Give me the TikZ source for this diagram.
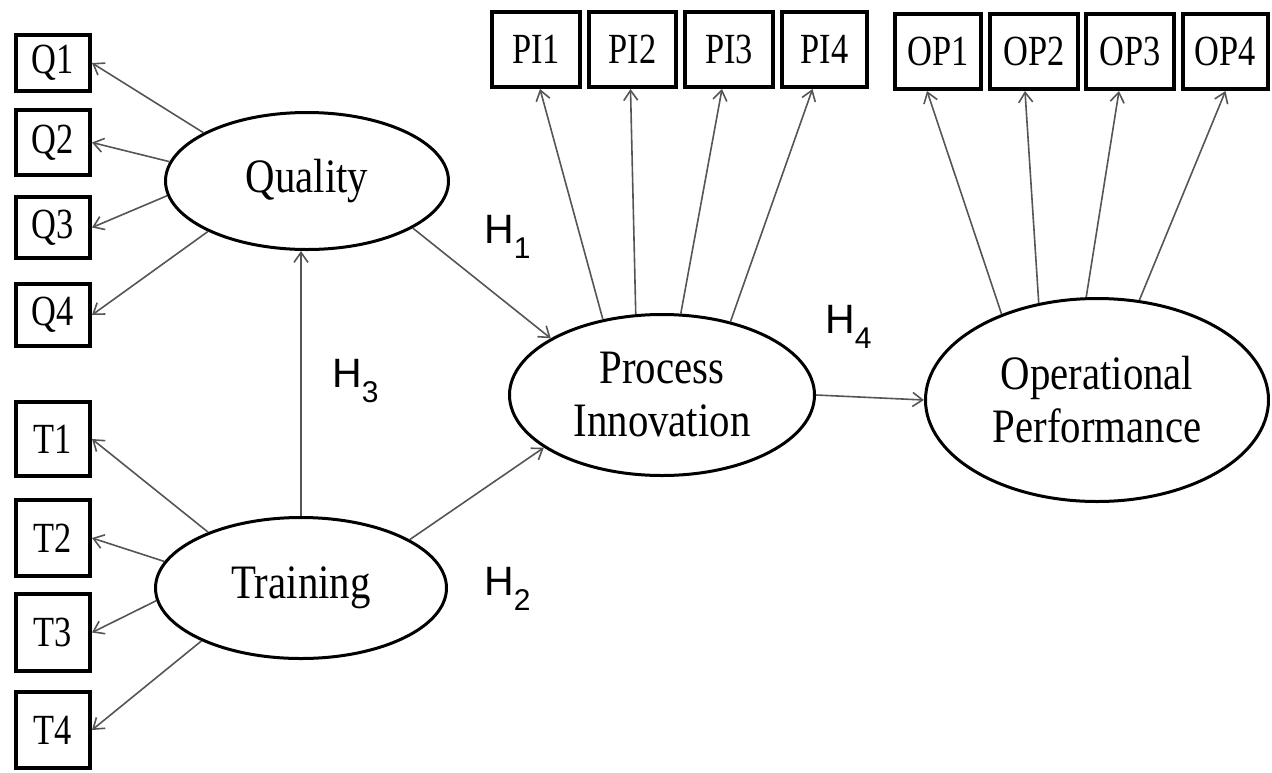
\documentclass[tikz,border=0pt]{standalone}
\usepackage{fontspec}
\usetikzlibrary{arrows.meta,shapes.geometric}
\newfontfamily\boxfont[FakeStretch=0.8]{Liberation Serif}
\newfontfamily\ellfont[FakeStretch=0.85]{Liberation Serif}
\newfontfamily\hfont{Liberation Sans}
\newcommand\Hlab[1]{{\hfont\fontsize{41}{41}\selectfont H\raisebox{-15pt}{\fontsize{30}{30}\selectfont #1}}}
\definecolor{arrgray}{RGB}{85,85,85}
\begin{document}
\begin{tikzpicture}[x=1pt,y=-1pt,
  ind/.style={draw, line width=4pt, inner sep=0pt, font=\boxfont\fontsize{43}{48}\selectfont},
  lat/.style={draw, ellipse, line width=3pt, inner sep=0pt, align=center, font=\ellfont\fontsize{48}{53}\selectfont},
  arr/.style={draw=arrgray, line width=1.6pt, -{Straight Barb[length=10pt,width=14pt]}},
  hyp/.style={anchor=base west, inner sep=0pt}]
\useasboundingbox (0,0) rectangle (1272,772);
% indicator boxes
\node[ind, minimum width=74pt, minimum height=56pt] (Q1) at (53,63) {Q1};
\node[ind, minimum width=74pt, minimum height=65pt] (Q2) at (53,142.5) {Q2};
\node[ind, minimum width=74pt, minimum height=61pt] (Q3) at (53,227.5) {Q3};
\node[ind, minimum width=74pt, minimum height=62pt] (Q4) at (53,315) {Q4};
\node[ind, minimum width=74pt, minimum height=74pt] (T1) at (53,439) {T1};
\node[ind, minimum width=74pt, minimum height=76pt] (T2) at (53,538) {T2};
\node[ind, minimum width=74pt, minimum height=77pt] (T3) at (53,632.5) {T3};
\node[ind, minimum width=74pt, minimum height=76pt] (T4) at (53,730) {T4};
\node[ind, minimum width=88pt, minimum height=75pt] (PI1) at (536,49.5) {PI1};
\node[ind, minimum width=87pt, minimum height=75pt] (PI2) at (632.5,49.5) {PI2};
\node[ind, minimum width=88pt, minimum height=75pt] (PI3) at (729,49.5) {PI3};
\node[ind, minimum width=85pt, minimum height=75pt] (PI4) at (824.5,49.5) {PI4};
\node[ind, minimum width=86pt, minimum height=75pt] (OP1) at (938,51.5) {OP1};
\node[ind, minimum width=88pt, minimum height=75pt] (OP2) at (1034,51.5) {OP2};
\node[ind, minimum width=88pt, minimum height=75pt] (OP3) at (1130,51.5) {OP3};
\node[ind, minimum width=85pt, minimum height=75pt] (OP4) at (1225.5,51.5) {OP4};
% latent variables
\node[lat, minimum width=283pt, minimum height=137pt] (Quality) at (307,181) {Quality};
\node[lat, minimum width=291pt, minimum height=141pt] (Training) at (301,588) {Training};
\node[lat, minimum width=305pt, minimum height=161pt] (PI) at (662,395) {Process\\Innovation};
\node[lat, minimum width=343pt, minimum height=203pt] (OP) at (1097,400) {Operational\\Performance};
% loadings
\draw[arr] (Quality.155) -- (Q1.east);
\draw[arr] (Quality.172) -- (Q2.east);
\draw[arr] (Quality.186) -- (Q3.east);
\draw[arr] (Quality.207) -- (Q4.east);
\draw[arr] (Training.149) -- (T1.east);
\draw[arr] (Training.169) -- (T2.east);
\draw[arr] (Training.185) -- (T3.east);
\draw[arr] (Training.208) -- (T4.east);
\draw[arr] (PI.128.5) -- ([xshift=4pt]PI1.south);
\draw[arr] (PI.108.5) -- ([xshift=-2pt]PI2.south);
\draw[arr] (PI.77.5) -- ([xshift=-7pt]PI3.south);
\draw[arr] (PI.47.3) -- ([xshift=-12pt]PI4.south);
\draw[arr] (OP.138.7) -- ([xshift=-11pt]OP1.south);
\draw[arr] (OP.121.4) -- ([xshift=-9pt]OP2.south);
\draw[arr] (OP.96.1) -- ([xshift=-11pt]OP3.south);
\draw[arr] (OP.67.7) -- (OP4.south);
% structural paths
\draw[arr] (Quality.336) -- (PI.153.6);
\draw[arr] (Training.24.4) -- (PI.204.9);
\draw[arr] (Training.north) -- (Training.north |- Quality.south);
\draw[arr] (PI.east) -- (OP.west);
% hypothesis labels
\node[hyp] (H1) at (484,243) {\Hlab{1}};
\node[hyp] (H2) at (484,595) {\Hlab{2}};
\node[hyp] (H3) at (332,387) {\Hlab{3}};
\node[hyp] (H4) at (825,333) {\Hlab{4}};
\end{tikzpicture}
\end{document}
